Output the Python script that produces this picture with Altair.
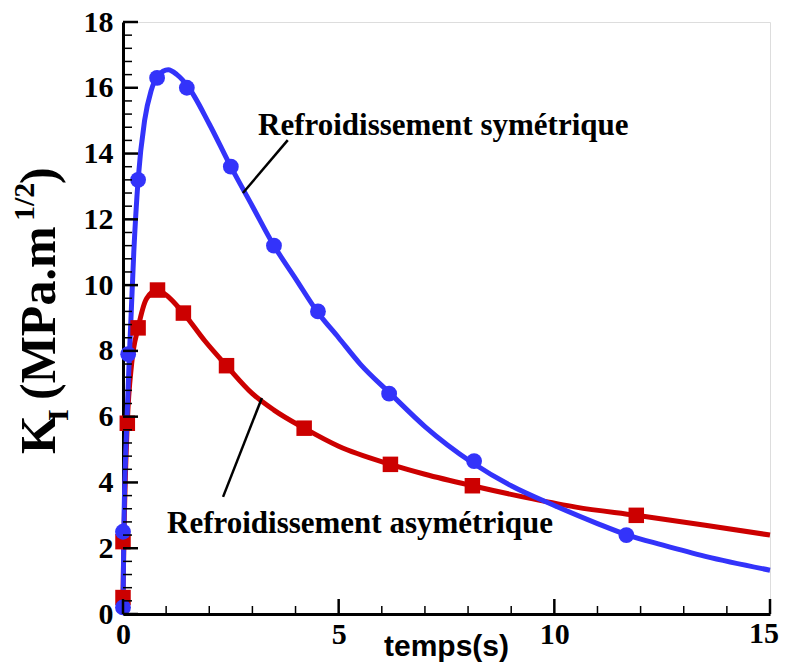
import altair as alt
import pandas as pd

# ---- data ----
# symmetric cooling (blue): curve and marker points
sym_curve_t = [0, 0.02, 0.08, 0.15, 0.25, 0.35, 0.5, 0.65, 0.8, 1.05, 1.25, 1.5, 2.0, 2.5, 3.0, 3.5,
               4.0, 4.5, 5.0, 5.5, 6.2, 7.0, 8.1, 9.0, 10.0, 11.0, 11.7, 12.5, 13.5, 15.0]
sym_curve_k = [0.2, 2.5, 5.5, 7.9, 11.0, 13.2, 15.0, 15.9, 16.35, 16.55, 16.4, 16.05, 14.9, 13.6, 12.4, 11.2,
               10.2, 9.2, 8.4, 7.6, 6.7, 5.7, 4.6, 3.9, 3.3, 2.75, 2.4, 2.1, 1.75, 1.33]
sym_pts_t = [0.0, 0.0, 0.12, 0.35, 0.79, 1.48, 2.5, 3.5, 4.52, 6.17, 8.14, 11.67]
sym_pts_k = [0.2, 2.5, 7.9, 13.2, 16.3, 16.0, 13.6, 11.2, 9.2, 6.7, 4.65, 2.4]

# asymmetric cooling (red)
asym_curve_t = [0, 0.02, 0.1, 0.2, 0.35, 0.55, 0.8, 1.0, 1.4, 1.9, 2.4, 3.0, 3.5, 4.2, 5.0, 6.2,
                7.0, 8.1, 9.5, 10.5, 11.9, 13.5, 15.0]
asym_curve_k = [0.5, 2.2, 5.8, 7.6, 8.7, 9.6, 9.85, 9.7, 9.15, 8.3, 7.55, 6.7, 6.2, 5.65, 5.1, 4.55,
                4.25, 3.9, 3.5, 3.25, 3.0, 2.7, 2.4]
asym_pts_t = [0.0, 0.0, 0.1, 0.35, 0.8, 1.4, 2.4, 4.2, 6.2, 8.1, 11.9]
asym_pts_k = [0.5, 2.2, 5.8, 8.7, 9.85, 9.15, 7.55, 5.65, 4.55, 3.9, 3.0]

x_major = [0, 5, 10, 15]
x_minor = [1, 2, 3, 4, 6, 7, 8, 9, 11, 12, 13, 14]
y_major = [0, 2, 4, 6, 8, 10, 12, 14, 16, 18]
y_minor = [0.4, 0.8, 1.2, 1.6, 2.4, 2.8, 3.2, 3.6, 4.4, 4.8, 5.2, 5.6, 6.4, 6.8, 7.2, 7.6,
           8.4, 8.8, 9.2, 9.6, 10.4, 10.8, 11.2, 11.6, 12.4, 12.8, 13.2, 13.6, 14.4, 14.8, 15.2, 15.6,
           16.4, 16.8, 17.2, 17.6]

labels_text = ["Refroidissement symétrique", "Refroidissement asymétrique"]
labels_t = [3.13, 1.02]
labels_k = [14.56, 2.46]
leader_t = [3.82, 2.78, 2.32, 3.22]
leader_k = [14.41, 12.80, 3.56, 6.57]
leader_id = ["s", "s", "a", "a"]

BLUE = "#3333FA"
RED = "#CC0000"
SERIF = "Liberation Serif"
LBL = 30

W, H = 647, 592
xs = alt.Scale(domain=[0, 15], nice=False, zero=False)
ys = alt.Scale(domain=[0, 18], nice=False, zero=False)

sym_curve = pd.DataFrame({"t": sym_curve_t, "k": sym_curve_k})
sym_pts = pd.DataFrame({"t": sym_pts_t, "k": sym_pts_k})
asym_curve = pd.DataFrame({"t": asym_curve_t, "k": asym_curve_k})
asym_pts = pd.DataFrame({"t": asym_pts_t, "k": asym_pts_k})

X = alt.X("t:Q", scale=xs, title=None,
          axis=alt.Axis(values=x_major[:-1], ticks=False, tickSize=0, grid=False, domainColor="black",
                        domainWidth=3, labelFont=SERIF, labelFontWeight="bold", labelFontSize=LBL,
                        labelColor="black", labelPadding=5, labelOverlap=False, labelFlush=False))
Y = alt.Y("k:Q", scale=ys, title=None,
          axis=alt.Axis(values=y_major, ticks=False, tickSize=0, grid=False, domainColor="black",
                        domainWidth=3, labelFont=SERIF, labelFontWeight="bold", labelFontSize=LBL,
                        labelColor="black", labelPadding=10, labelOverlap=False, labelFlush=False))

red_line = alt.Chart(asym_curve).mark_line(color=RED, strokeWidth=5, interpolate="monotone").encode(
    x=X, y=Y, order="t:Q")
red_pts = alt.Chart(asym_pts).mark_point(shape="square", filled=True, color=RED, size=240, opacity=1).encode(
    x=alt.X("t:Q", scale=xs), y=alt.Y("k:Q", scale=ys))
blue_line = alt.Chart(sym_curve).mark_line(color=BLUE, strokeWidth=5, interpolate="monotone").encode(
    x=alt.X("t:Q", scale=xs), y=alt.Y("k:Q", scale=ys), order="t:Q")
blue_pts = alt.Chart(sym_pts).mark_point(shape="circle", filled=True, color=BLUE, size=250, opacity=1).encode(
    x=alt.X("t:Q", scale=xs), y=alt.Y("k:Q", scale=ys))

# last x tick label, kept inside the page edge
last_lbl = alt.Chart(pd.DataFrame({"t": [x_major[-1]], "s": [str(x_major[-1])]})).mark_text(
    font=SERIF, fontWeight="bold", fontSize=LBL, align="right", baseline="top", dx=9, color="black").encode(
    x=alt.X("t:Q", scale=xs), y=alt.value(H + 5), text="s:N")

# inward ticks
xmaj = alt.Chart(pd.DataFrame({"t": x_major})).mark_rule(color="black", strokeWidth=2.5).encode(
    x=alt.X("t:Q", scale=xs), y=alt.value(H), y2=alt.value(H - 15))
xmin = alt.Chart(pd.DataFrame({"t": x_minor})).mark_rule(color="black", strokeWidth=1.5).encode(
    x=alt.X("t:Q", scale=xs), y=alt.value(H), y2=alt.value(H - 8))
ymaj = alt.Chart(pd.DataFrame({"k": y_major})).mark_rule(color="black", strokeWidth=2.5).encode(
    y=alt.Y("k:Q", scale=ys), x=alt.value(0), x2=alt.value(15))
ymin = alt.Chart(pd.DataFrame({"k": y_minor})).mark_rule(color="black", strokeWidth=1.5).encode(
    y=alt.Y("k:Q", scale=ys), x=alt.value(0), x2=alt.value(9))

# annotations
ann = alt.Chart(pd.DataFrame({"t": labels_t, "k": labels_k, "txt": labels_text})).mark_text(
    font=SERIF, fontWeight="bold", fontSize=31, align="left", baseline="alphabetic", color="black").encode(
    x=alt.X("t:Q", scale=xs), y=alt.Y("k:Q", scale=ys), text="txt:N")
leaders = alt.Chart(pd.DataFrame({"t": leader_t, "k": leader_k, "id": leader_id})).mark_line(
    color="black", strokeWidth=2.5).encode(
    x=alt.X("t:Q", scale=xs), y=alt.Y("k:Q", scale=ys), detail="id:N")

# axis titles (pixel-positioned text pieces)
OX, OY = 123 - 8, 22 - 8  # plot origin offset inside svg (padding)
def ytxt(s, size, bx, sy):
    return alt.Chart(pd.DataFrame({"s": [s]})).mark_text(
        font=SERIF, fontWeight="bold", fontSize=size, angle=270, align="left",
        baseline="alphabetic", color="black").encode(
        text="s:N", x=alt.value(bx - 123), y=alt.value(sy - 22))

ytitle = (ytxt("K", 50, 55, 454) + ytxt("I", 30, 68, 421) + ytxt("(MPa.m", 50, 55, 400)
          + ytxt("1/2", 30, 34, 221) + ytxt(")", 50, 55, 184))
xtitle = alt.Chart(pd.DataFrame({"s": ["temps(s)"]})).mark_text(
    font="Liberation Sans", fontWeight="bold", fontSize=30, align="center", baseline="alphabetic",
    color="black").encode(text="s:N", x=alt.value(W / 2), y=alt.value(656 - 22))

chart = alt.layer(
    red_line, blue_line, red_pts, blue_pts, xmaj, xmin, ymaj, ymin, leaders, ann, last_lbl, ytitle, xtitle
).properties(
    width=W, height=H,
    padding={"left": OX, "top": OY, "right": 9, "bottom": 49},
    autosize=alt.AutoSizeParams(type="none"),
).configure_view(stroke=None).configure(background="white")

chart.save("out.html", embed_options={"renderer": "svg", "actions": False})
